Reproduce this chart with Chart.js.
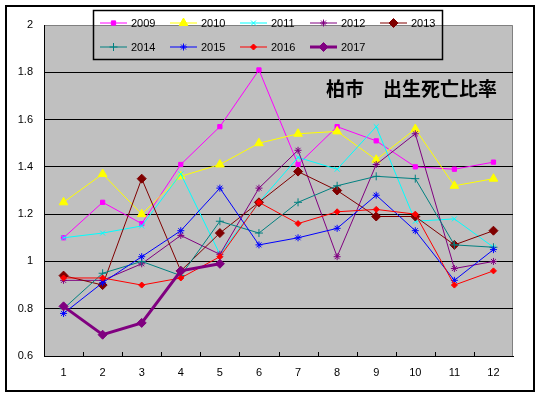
<!DOCTYPE html>
<html>
<head>
<meta charset="utf-8">
<script src="https://cdn.jsdelivr.net/npm/chart.js@4/dist/chart.umd.min.js"></script>
<style>
  html, body { margin: 0; padding: 0; background: #fff; }
  #wrap { width: 541px; height: 397px; position: relative; }
</style>
</head>
<body>
<div id="wrap"><canvas id="chart-birth-death" width="541" height="397"></canvas></div>
<script>
var months = ['1','2','3','4','5','6','7','8','9','10','11','12'];
var years = ['2009','2010','2011','2012','2013','2014','2015','2016','2017'];
var y2009 = [1.10, 1.25, 1.16, 1.41, 1.57, 1.81, 1.41, 1.57, 1.51, 1.40, 1.39, 1.42];
var y2010 = [1.25, 1.37, 1.20, 1.36, 1.41, 1.50, 1.54, 1.55, 1.43, 1.56, 1.32, 1.35];
var y2011 = [1.10, 1.12, 1.15, 1.37, 1.03, 1.25, 1.44, 1.39, 1.57, 1.17, 1.18, 1.06];
var y2012 = [0.92, 0.92, 0.99, 1.11, 1.03, 1.31, 1.47, 1.02, 1.41, 1.54, 0.97, 1.00];
var y2013 = [0.94, 0.90, 1.35, 0.96, 1.12, 1.25, 1.38, 1.30, 1.19, 1.19, 1.07, 1.13];
var y2014 = [0.80, 0.95, 1.00, 0.94, 1.17, 1.12, 1.25, 1.32, 1.36, 1.35, 1.07, 1.06];
var y2015 = [0.78, 0.91, 1.02, 1.13, 1.31, 1.07, 1.10, 1.14, 1.28, 1.13, 0.92, 1.05];
var y2016 = [0.93, 0.93, 0.90, 0.93, 1.02, 1.25, 1.16, 1.21, 1.22, 1.20, 0.90, 0.96];
var y2017 = [0.81, 0.69, 0.74, 0.96, 0.99];
var titleText = '柏市\u3000出生死亡比率';

var font = '"Liberation Sans", Arial, sans-serif';

function series(label, data, color, style, radius, width) {
	return {
		label: label,
		data: data,
		borderColor: color,
		backgroundColor: color,
		borderWidth: width || 1,
		pointStyle: style,
		pointRadius: radius,
		pointHoverRadius: radius,
		pointBorderColor: color,
		pointBackgroundColor: color,
		pointBorderWidth: 1,
		lineTension: 0,
		fill: false
	};
}

var sets = [
	series(years[0], y2009, '#ff00ff', 'rect', 3),
	series(years[1], y2010, '#ffff00', 'triangle', 5),
	series(years[2], y2011, '#00ffff', 'crossRot', 3.5),
	series(years[3], y2012, '#800080', 'star', 3.5),
	series(years[4], y2013, '#800000', 'rectRot', 4.5),
	series(years[5], y2014, '#008080', 'cross', 4),
	series(years[6], y2015, '#0000ff', 'star', 3.5),
	series(years[7], y2016, '#ff0000', 'rectRot', 3),
	series(years[8], y2017, '#800080', 'rectRot', 4.5, 3)
];
// later years drawn on top, like the original
sets.forEach(function(d, i) { d.order = sets.length - i; });

var framePlugin = {
	id: 'frame',
	beforeDraw: function(chart) {
		var c = chart.ctx, a = chart.chartArea;
		c.save();
		c.fillStyle = '#fff';
		c.fillRect(0, 0, chart.width, chart.height);
		c.strokeStyle = '#000';
		c.lineWidth = 2;
		c.strokeRect(6, 6, 528, 385);
		c.fillStyle = '#c0c0c0';
		c.fillRect(a.left, a.top, a.right - a.left, a.bottom - a.top);
		c.strokeStyle = '#808080';
		c.lineWidth = 1;
		c.beginPath();
		c.moveTo(a.left, a.top + 0.5);
		c.lineTo(a.right - 0.5, a.top + 0.5);
		c.lineTo(a.right - 0.5, a.bottom);
		c.stroke();
		c.restore();
	},
	afterDraw: function(chart) {
		var c = chart.ctx, a = chart.chartArea;
		c.save();
		// inward tick marks on the category axis
		c.strokeStyle = '#000';
		c.lineWidth = 1;
		var w = (a.right - a.left) / months.length;
		c.beginPath();
		for (var i = 1; i < months.length; i++) {
			var x = Math.round(a.left + i * w) + 0.5;
			c.moveTo(x, a.bottom);
			c.lineTo(x, a.bottom - 4);
		}
		c.stroke();

		// title inside the plot
		c.fillStyle = '#000';
		c.font = 'bold 19px "Noto Sans CJK JP", sans-serif';
		c.textBaseline = 'middle';
		c.textAlign = 'left';
		c.fillText(titleText, 326, 89);

		// legend box
		c.strokeStyle = '#000';
		c.lineWidth = 1.5;
		c.strokeRect(93.5, 10.5, 349, 49);
		c.font = '11px ' + font;
		chart.data.datasets.forEach(function(ds, i) {
			var col = i % 5, row = Math.floor(i / 5);
			var x0 = 100 + col * 70, y0 = row ? 47 : 23;
			c.strokeStyle = ds.borderColor;
			c.lineWidth = ds.borderWidth;
			c.beginPath();
			c.moveTo(x0, y0);
			c.lineTo(x0 + 27, y0);
			c.stroke();
			c.fillStyle = ds.pointBackgroundColor;
			c.strokeStyle = ds.pointBorderColor;
			c.lineWidth = 1;
			if (Chart.helpers && Chart.helpers.drawPoint) {
				Chart.helpers.drawPoint(c, {
					pointStyle: ds.pointStyle,
					radius: ds.pointRadius,
					rotation: 0,
					borderWidth: 1
				}, x0 + 13.5, y0);
			}
			c.fillStyle = '#000';
			c.textAlign = 'left';
			c.fillText(ds.label, x0 + 31, y0 + 0.5);
		});
		c.restore();
	}
};

var ctx = document.getElementById('chart-birth-death');
var chart = new Chart(ctx, {
	type: 'line',
	data: {
		labels: months,
		datasets: sets
	},
	options: {
		responsive: false,
		animation: false,
		devicePixelRatio: 1,
		layout: { padding: { top: 25, right: 28, left: 0, bottom: 0 } },
		plugins: {
			legend: { display: false },
			tooltip: { enabled: false }
		},
		scales: {
			x: {
				offset: true,
				grid: { display: false, drawTicks: false },
				border: { display: true, color: '#000', width: 1 },
				ticks: { color: '#000', padding: 10, font: { family: font, size: 11 } },
				afterFit: function(s) { s.height = 41; }
			},
			y: {
				min: 0.6,
				max: 2,
				grid: {
					drawTicks: false,
					color: function(c) {
						var v = c.tick ? c.tick.value : 0;
						return (Math.abs(v - 2) < 0.01 || Math.abs(v - 0.6) < 0.01) ? 'rgba(0,0,0,0)' : '#000';
					}
				},
				border: { display: true, color: '#000', width: 1 },
				ticks: {
					stepSize: 0.2,
					color: '#000',
					padding: 11,
					font: { family: font, size: 11 },
					callback: function(v) { return String(Number(v.toFixed(1))); }
				},
				afterFit: function(s) { s.width = 44; }
			}
		}
	},
	plugins: [framePlugin]
});
</script>
</body>
</html>
